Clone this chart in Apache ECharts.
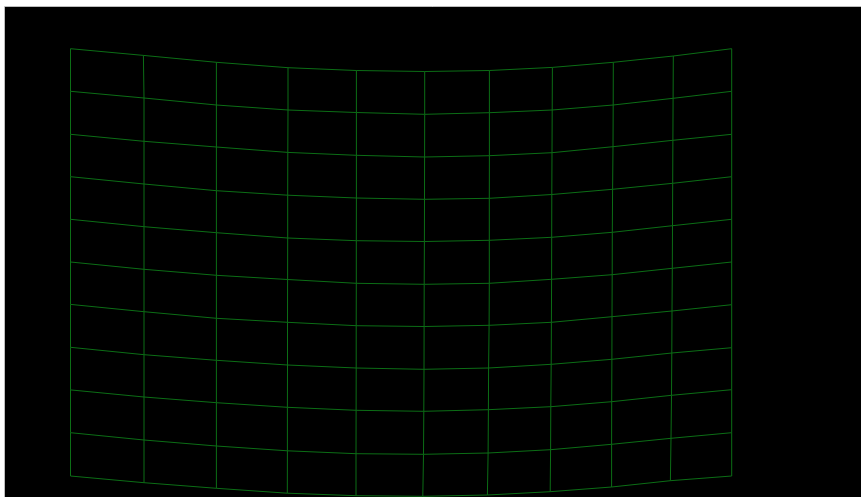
<!DOCTYPE html>
<html>
<head>
<meta charset="utf-8">
<style>html,body{margin:0;padding:0;background:#fff;overflow:hidden}#c{width:861px;height:497px}</style>
<script src="https://cdn.jsdelivr.net/npm/echarts@6/dist/echarts.min.js"></script>
</head>
<body>
<div id="c"></div>
<script>
// y of each mesh row, read at each column
const rowY0  = [48.7, 55.4, 62.3, 67.7, 70.5, 71.5, 70.5, 67.4, 62.3, 56.0, 48.7];
const rowY1  = [91.3, 98.0, 105.0, 110.0, 112.5, 114.3, 112.7, 110.0, 105.0, 98.3, 91.3];
const rowY2  = [134.3, 141.3, 147.0, 152.4, 155.3, 157.0, 155.7, 152.7, 146.7, 140.3, 134.3];
const rowY3  = [176.7, 184.0, 190.7, 195.2, 198.0, 199.3, 198.3, 194.5, 189.3, 183.3, 176.7];
const rowY4  = [219.3, 226.7, 232.7, 238.0, 240.7, 241.5, 240.3, 237.3, 232.3, 225.7, 219.3];
const rowY5  = [262.0, 269.3, 275.3, 279.5, 283.3, 284.3, 283.3, 279.3, 274.7, 268.3, 262.0];
const rowY6  = [304.4, 311.7, 318.3, 322.3, 325.7, 326.5, 325.3, 322.3, 316.7, 311.0, 304.7];
const rowY7  = [347.3, 354.7, 360.3, 365.0, 368.0, 369.3, 368.0, 364.3, 359.3, 353.0, 347.7];
const rowY8  = [389.9, 397.0, 402.7, 407.3, 410.3, 411.3, 409.7, 406.7, 401.7, 395.3, 389.7];
const rowY9  = [432.7, 440.0, 446.0, 450.8, 453.7, 454.3, 453.0, 449.7, 444.3, 438.3, 432.7];
const rowY10 = [476.0, 482.7, 488.3, 493.2, 495.7, 496.3, 495.0, 491.7, 487.0, 480.7, 476.0];

// x of each mesh column, read at each row
const colX0  = [70.5, 70.5, 70.5, 70.5, 70.5, 70.5, 70.5, 70.5, 70.5, 70.5, 70.5];
const colX1  = [143.4, 144, 144, 144, 144, 144, 144, 144, 144, 144, 144];
const colX2  = [216.4, 216.4, 216.4, 216.4, 216.4, 216.4, 216.4, 216.4, 216.4, 216.4, 216.4];
const colX3  = [288, 288, 287.8, 287.7, 287.7, 287.6, 287.5, 287.5, 287.4, 287.4, 287.3];
const colX4  = [356.4, 356.4, 356.4, 356.4, 356.3, 356.3, 356.2, 356.2, 356.1, 356, 356];
const colX5  = [424.7, 424.7, 424.6, 424.5, 424.4, 424.2, 424.1, 424, 423.8, 423.5, 422.8];
const colX6  = [489.4, 489.4, 489.4, 489.3, 489.3, 489.3, 489.1, 488.6, 488.4, 488.1, 487.4];
const colX7  = [552.4, 552.2, 552, 551.8, 551.7, 551.6, 551.4, 551.2, 550.8, 550.6, 550.2];
const colX8  = [613.3, 613.2, 613, 612.6, 612.3, 612.2, 612, 611.9, 611.7, 611.6, 611.6];
const colX9  = [673.3, 673.1, 672.9, 672.7, 672.5, 672.3, 672, 671.8, 671.5, 671, 670.4];
const colX10 = [731.7, 731.7, 731.7, 731.7, 731.7, 731.7, 731.7, 731.7, 731.7, 731.7, 731.7];

const rows = [rowY0, rowY1, rowY2, rowY3, rowY4, rowY5, rowY6, rowY7, rowY8, rowY9, rowY10];
const cols = [colX0, colX1, colX2, colX3, colX4, colX5, colX6, colX7, colX8, colX9, colX10];

const lineColor = '#0c6e16';
const series = [];
rows.forEach((ys, r) => series.push({
  type: 'line', symbol: 'none', silent: true, clip: false,
  lineStyle: { color: lineColor, width: 1 },
  data: ys.map((y, c) => [cols[c][r], y])
}));
cols.forEach((xs, c) => series.push({
  type: 'line', symbol: 'none', silent: true, clip: false,
  lineStyle: { color: lineColor, width: 1 },
  data: xs.map((x, r) => [x, rows[r][c]])
}));

const chart = echarts.init(document.getElementById('c'), null, { renderer: 'canvas' });
chart.setOption({
  animation: false,
  backgroundColor: '#ffffff',
  grid: {
    show: true, left: 5, top: 7, right: 0, bottom: 0,
    backgroundColor: '#000000', borderWidth: 0
  },
  xAxis: { type: 'value', min: 5, max: 861, show: false },
  yAxis: { type: 'value', min: 7, max: 497, inverse: true, show: false },
  graphic: [
    { type: 'line', shape: { x1: 4.5, y1: 6.5, x2: 4.5, y2: 497 }, style: { stroke: '#bdbdbd', lineWidth: 1 }, silent: true },
    { type: 'line', shape: { x1: 4.5, y1: 6.5, x2: 861, y2: 6.5 }, style: { stroke: '#bdbdbd', lineWidth: 1 }, silent: true }
  ],
  series
});
</script>
</body>
</html>
